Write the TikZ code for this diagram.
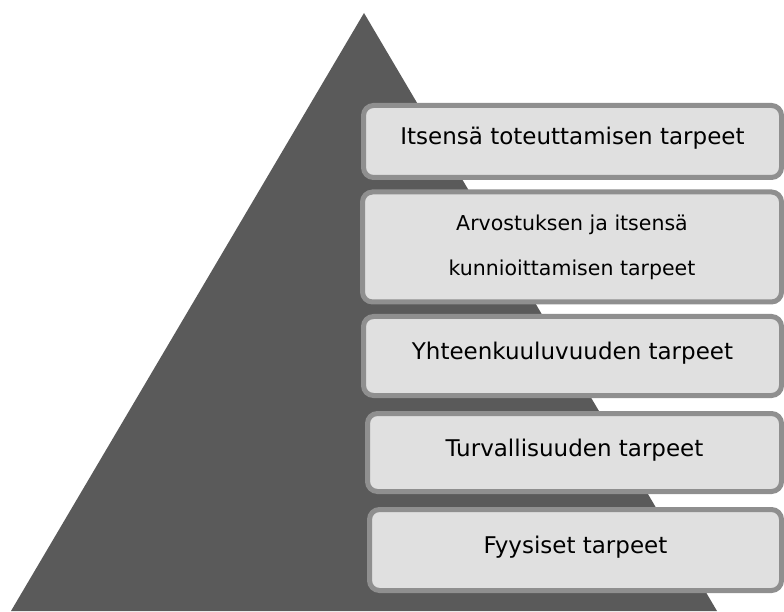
\documentclass[tikz,border=0pt]{standalone}
\usepackage{fontspec}
\setmainfont{DejaVu Sans}
\usepackage{tikz}
\definecolor{pyramidgray}{HTML}{5A5A5A}
\definecolor{tierline}{HTML}{8F8F8F}
\definecolor{tierfill}{HTML}{E0E0E0}
\tikzset{
  tier/.style={draw=tierline, fill=tierfill, line width=5pt, rounded corners=10pt,
    inner sep=0pt, align=center},
  onerow/.style={tier, font=\fontsize{23}{27}\selectfont, text height=17pt, text depth=10pt}
}

\begin{document}
\begin{tikzpicture}[x=1pt,y=1pt]
            \useasboundingbox (0,0) rectangle (784,611);
            % pyramid
            \fill[pyramidgray] (11,0) -- (364,598) -- (717,0) -- cycle;
            % tiers, top to bottom
            \node[onerow, minimum width=418pt, minimum height=72pt] (itse) at (572.5,469.5) {Itsensä toteuttamisen tarpeet};
            \node[tier, minimum width=419pt, minimum height=110pt, font=\fontsize{20.5}{45}\selectfont] (arvo) at (572,364) {Arvostuksen ja itsensä\\kunnioittamisen tarpeet};
            \node[onerow, minimum width=418pt, minimum height=79pt] (yhteen) at (572.5,255) {Yhteenkuuluvuuden tarpeet};
            \node[onerow, minimum width=414pt, minimum height=78pt] (turva) at (574.5,158.5) {Turvallisuuden tarpeet};
            \node[onerow, minimum width=412pt, minimum height=81pt] (fyys) at (575.5,61) {Fyysiset tarpeet};
        \end{tikzpicture}
\end{document}
